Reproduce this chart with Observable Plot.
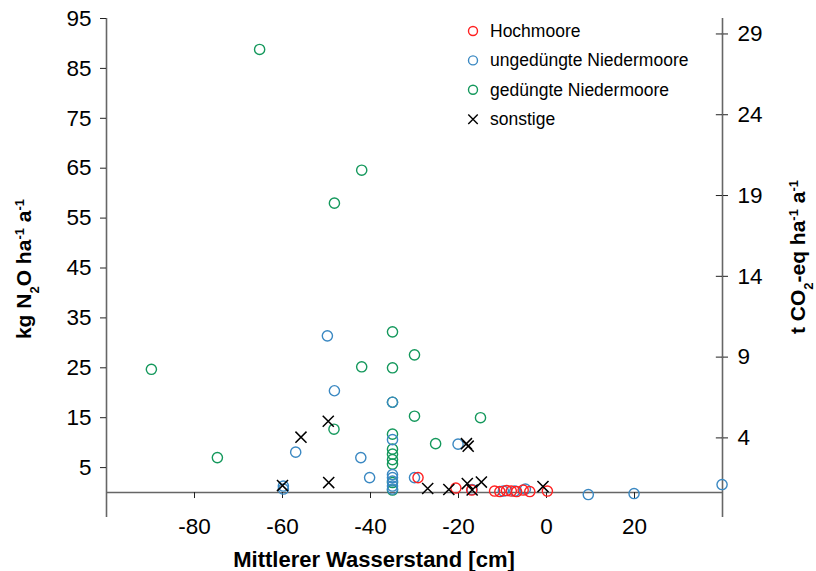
<!DOCTYPE html>
<html><head><meta charset="utf-8">
<script src="https://cdn.jsdelivr.net/npm/d3@7"></script>
<script src="https://cdn.jsdelivr.net/npm/@observablehq/plot@0.6"></script>
<style>
body{margin:0;background:#fff;}
#wrap{position:relative;width:816px;height:571px;}
</style></head><body><div id="wrap"></div>
<script>
// ---- data (Mittlerer Wasserstand [cm], kg N2O ha-1 a-1) ----
const hochX = [-29.2, -20.6, -17.0, -11.8, -10.6, -9.1, -8.0, -6.8, -5.3, -3.8, 0.2];
const hochY = [3.0, 0.9, 0.5, 0.3, 0.2, 0.4, 0.3, 0.2, 0.5, 0.2, 0.3];

const ungX = [-49.8, -48.2, -57.0, -42.2, -40.2, -59.8, -59.8, -35, -35, -35, -35, -35, -35, -35, -30.0, -20.1, -16.9, -9.8, -7.2, -4.8, 9.5, 19.9, 39.9];
const ungY = [31.4, 20.4, 8.1, 7.0, 3.0, 1.3, 0.7, 18.1, 10.6, 3.6, 3.0, 2.3, 1.3, 0.7, 3.0, 9.7, 0.6, 0.3, 0.3, 0.7, -0.4, -0.2, 1.6];

const gedX = [-65.2, -89.8, -74.8, -42.0, -48.2, -42.0, -48.3, -35, -35, -35, -35, -35, -35, -35, -35, -35, -35, -30.0, -30.0, -25.2, -15.0];
const gedY = [88.8, 24.7, 7.0, 64.6, 58.0, 25.2, 12.7, 32.2, 25.0, 18.1, 11.7, 8.7, 7.7, 6.6, 5.7, 2.0, 0.5, 27.6, 15.3, 9.8, 15.0];

const sonstX = [-60.0, -55.8, -49.6, -49.5, -27.0, -22.2, -18.2, -17.8, -18.0, -16.9, -14.8, -0.8];
const sonstY = [1.4, 11.1, 14.3, 2.0, 0.8, 0.6, 9.8, 9.3, 1.8, 0.5, 2.1, 1.2];

const seriesNames = ["Hochmoore", "ungedüngte Niedermoore", "gedüngte Niedermoore", "sonstige"];
const seriesColors = ["#ff2020", "#3a88c2", "#14985c", "#000000"];

const xTicks = [-80, -60, -40, -20, 0, 20];
const yTicksLeft = [5, 15, 25, 35, 45, 55, 65, 75, 85, 95];
const yTicksRight = [4, 9, 14, 19, 24, 29];
const xDomain = [-100, 40];
const yDomain = [-5, 95];
// secondary axis (t CO2-eq) expressed on the kg N2O scale as drawn in the original
const tFactor = 3.238, tOffset = -2.0;
const rightY = t => tFactor * t + tOffset;

function rows(xs, ys, s) { return xs.map((x, i) => ({x, y: ys[i], s})); }
const hoch = rows(hochX, hochY, seriesNames[0]);
const ung = rows(ungX, ungY, seriesNames[1]);
const ged = rows(gedX, gedY, seriesNames[2]);
const sonst = rows(sonstX, sonstY, seriesNames[3]);

const font = '"Liberation Sans", Arial, sans-serif';
const lineCol = "#666";
const fmt = d => String(d);
const R = 5.1;

const chart = Plot.plot({
  width: 816, height: 571,
  marginLeft: 106, marginRight: 94, marginTop: 18, marginBottom: 54,
  style: {fontFamily: font, background: "white", color: "black"},
  x: {domain: xDomain},
  y: {domain: yDomain},
  marks: [
    Plot.ruleY([0], {stroke: lineCol, strokeWidth: 1.6}),
    Plot.ruleX(xDomain, {stroke: lineCol, strokeWidth: 1.6}),
    Plot.axisY(yTicksLeft, {anchor: "left", tickFormat: fmt, tickSize: 6, tickPadding: 9, fontSize: 22.5, label: null, stroke: "#222"}),
    Plot.axisY(yTicksRight, {anchor: "right", y: rightY, tickFormat: fmt, tickSize: 5, tickPadding: 10, fontSize: 22.5, label: null, stroke: "#222"}),
    Plot.ruleY(yTicksRight, {y: rightY, x1: xDomain[1] - 1.4, x2: xDomain[1], stroke: "#222"}),
    Plot.ruleX(xTicks, {x: d => d, y1: 0, y2: -1.2, stroke: "#222"}),
    Plot.axisX(xTicks, {anchor: "bottom", tickFormat: fmt, tickSize: 0, tickPadding: 1, fontSize: 22.5, label: null}),
    Plot.dot(ged, {x: "x", y: "y", r: R, stroke: seriesColors[2], strokeWidth: 1.4}),
    Plot.dot(ung, {x: "x", y: "y", r: R, stroke: seriesColors[1], strokeWidth: 1.4}),
    Plot.dot(hoch, {x: "x", y: "y", r: R, stroke: seriesColors[0], strokeWidth: 1.4}),
    Plot.dot(sonst, {x: "x", y: "y", r: R, symbol: "times", stroke: seriesColors[3], strokeWidth: 1.5})
  ]
});
document.getElementById("wrap").appendChild(chart);

const svg = d3.select(chart);
function title(parts, attrs) {
  const t = svg.append("text")
    .attr("text-anchor", "middle")
    .attr("font-family", font)
    .attr("font-weight", "bold")
    .attr("font-size", attrs.size)
    .attr("fill", "black")
    .attr("transform", attrs.transform);
  parts.forEach(p => {
    const s = t.append("tspan").text(p.t);
    if (p.shift) s.attr("baseline-shift", p.shift).attr("font-size", "62%");
  });
}
title([{t: "kg N"}, {t: "2", shift: "sub"}, {t: "O ha"}, {t: "-1", shift: "super"}, {t: " a"}, {t: "-1", shift: "super"}],
  {size: 21, transform: "translate(31,269) rotate(-90)"});
title([{t: "t CO"}, {t: "2", shift: "sub"}, {t: "-eq ha"}, {t: "-1", shift: "super"}, {t: " a"}, {t: "-1", shift: "super"}],
  {size: 21, transform: "translate(805,257) rotate(-90)"});
title([{t: "Mittlerer Wasserstand [cm]"}], {size: 22, transform: "translate(374,567)"});

// legend
const lg = svg.append("g").attr("font-family", font).attr("font-size", 17.5).attr("text-anchor", "start");
seriesNames.forEach((name, i) => {
  const cy = 31 + i * 29.4;
  if (i < 3) {
    lg.append("circle").attr("cx", 473).attr("cy", cy).attr("r", 4.5)
      .attr("fill", "none").attr("stroke", seriesColors[i]).attr("stroke-width", 1.4);
  } else {
    lg.append("path").attr("transform", `translate(473,${cy})`)
      .attr("d", d3.symbol(d3.symbolTimes, 60)())
      .attr("fill", "none").attr("stroke", seriesColors[i]).attr("stroke-width", 1.4);
  }
  lg.append("text").attr("x", 490).attr("y", cy + 6).attr("text-anchor", "start").attr("fill", "black").text(name);
});
</script>
</body></html>
